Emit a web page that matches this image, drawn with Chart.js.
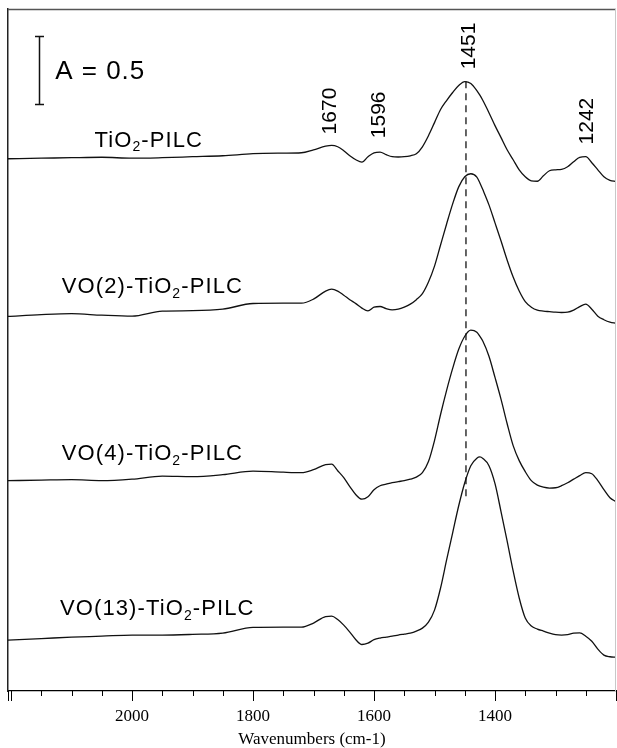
<!DOCTYPE html>
<html><head><meta charset="utf-8">
<script src="https://cdn.jsdelivr.net/npm/chart.js@4/dist/chart.umd.min.js"></script>
<style>html,body{margin:0;padding:0;background:#fff}</style>
</head><body>
<canvas id="c" width="617" height="748"></canvas>
<script>
// Wavenumbers (cm-1), shared by all spectra
const wavenumbers = [2205,2150,2100,2050,2000,1950,1900,1850,1800,1750,1720,1700,
  1680,1670,1660,1650,1640,1630,1620,1610,1600,1590,1580,1570,1560,1550,1540,1530,1520,1510,
  1500,1490,1480,1470,1460,1450,1440,1430,1425,1420,1410,1400,1390,1380,1370,1360,1350,1340,1330,
  1320,1310,1300,1290,1280,1270,1260,1250,1240,1230,1220,1210,1200];

// Absorbance (offset stacked) for each sample
const tio2Pilc = [3.902,3.906,3.910,3.913,3.906,3.910,3.917,3.924,3.939,3.943,3.946,3.968,
  3.994,4.000,3.990,3.961,3.924,3.895,3.878,3.917,3.946,3.951,3.932,3.917,3.915,3.917,3.924,3.939,3.990,4.071,
  4.167,4.263,4.329,4.388,4.439,4.468,4.454,4.402,4.368,4.329,4.240,4.145,4.057,3.968,3.895,3.821,3.770,3.740,3.737,
  3.777,3.814,3.821,3.824,3.843,3.880,3.913,3.917,3.873,3.821,3.770,3.744,3.735];
const vo2Pilc = [2.746,2.759,2.766,2.755,2.748,2.785,2.788,2.799,2.841,2.843,2.843,2.873,
  2.932,2.946,2.932,2.902,2.869,2.840,2.807,2.787,2.814,2.819,2.803,2.794,2.799,2.814,2.836,2.869,2.913,2.998,
  3.115,3.270,3.424,3.571,3.696,3.770,3.792,3.768,3.725,3.674,3.564,3.432,3.299,3.160,3.035,2.932,2.854,2.814,2.792,
  2.785,2.781,2.777,2.775,2.777,2.792,2.818,2.836,2.799,2.748,2.722,2.704,2.696];
const vo4Pilc = [1.542,1.546,1.549,1.542,1.553,1.575,1.571,1.586,1.612,1.604,1.601,1.623,
  1.660,1.663,1.615,1.564,1.498,1.439,1.406,1.424,1.476,1.505,1.516,1.527,1.535,1.542,1.553,1.568,1.601,1.682,
  1.836,2.027,2.204,2.365,2.505,2.601,2.645,2.630,2.600,2.564,2.454,2.299,2.138,1.961,1.799,1.689,1.608,1.542,1.509,
  1.494,1.488,1.490,1.505,1.527,1.553,1.579,1.601,1.593,1.542,1.476,1.417,1.388];
const vo13Pilc = [0.373,0.384,0.395,0.402,0.410,0.410,0.415,0.424,0.466,0.468,0.468,0.498,
  0.546,0.549,0.524,0.483,0.432,0.376,0.341,0.351,0.376,0.388,0.395,0.402,0.410,0.417,0.424,0.439,0.461,0.505,
  0.593,0.755,0.961,1.160,1.358,1.527,1.652,1.707,1.716,1.705,1.652,1.520,1.314,1.101,0.880,0.682,0.535,0.476,0.454,
  0.439,0.424,0.413,0.410,0.413,0.424,0.426,0.402,0.365,0.307,0.263,0.251,0.248];

// Sample names ("_2" marks a subscript 2) and their anchor (left edge wavenumber, absorbance)
const sampleNames = ["TiO_2-PILC","VO(2)-TiO_2-PILC","VO(4)-TiO_2-PILC","VO(13)-TiO_2-PILC"];
const sampleNameX = [2062,2116,2116,2119];
const sampleNameY = [4.049,2.976,1.751,0.612];

// Peak annotations
const peakLabels = ["1670","1596","1451","1242"];
const peakLabelX = [1675,1595,1445,1251];
const peakLabelY = [4.252,4.224,4.729,4.178];

// Marker line at 1451 cm-1
const markerX = [1448,1448];
const markerY = [4.471,1.417];

// Scale bar A = 0.5
const scaleBarX = 2153;
const scaleBarY = [4.299,4.799];
const scaleBarText = "A = 0.5";
const scaleBarTextX = 2127;
const scaleBarTextY = 4.557;

// Axis ticks
const tickMin = 1200, tickMax = 2200, tickStep = 50;
const majorTickLabels = [2000,1800,1600,1400];

const pts = arr => wavenumbers.map((w,i)=>({x:w, y:arr[i]}));
const lineDs = (arr) => ({data:pts(arr), borderColor:'#111', borderWidth:1.3, pointRadius:0, pointHoverRadius:0, fill:false, cubicInterpolationMode:'monotone'});

const SANS = '"Liberation Sans", Arial, Helvetica, sans-serif';
const SERIF = '"Liberation Serif", "Times New Roman", serif';

function drawName(ctx, str, px, py, size){
  const parts = str.split('_');
  ctx.textAlign='left'; ctx.textBaseline='alphabetic';
  try { ctx.letterSpacing = '1.1px'; } catch(e){}
  const base = py + 0.36*size;
  let cx = px;
  ctx.font = size+'px '+SANS;
  ctx.fillText(parts[0], cx, base); cx += ctx.measureText(parts[0]).width;
  if (parts[1]) {
    const sub = parts[1][0], rest = parts[1].slice(1);
    ctx.font = Math.round(size*0.62)+'px '+SANS;
    ctx.fillText(sub, cx, base + size*0.22); cx += ctx.measureText(sub).width;
    ctx.font = size+'px '+SANS;
    ctx.fillText(rest, cx, base);
  }
  try { ctx.letterSpacing = '0px'; } catch(e){}
}

const annot = {
  id:'annot',
  afterDraw(chart){
    const {ctx, scales:{x,y}, chartArea:a} = chart;
    ctx.save();
    // frame: top and right
    ctx.strokeStyle='#555'; ctx.lineWidth=1.5;
    ctx.beginPath(); ctx.moveTo(a.left, a.top+0.5); ctx.lineTo(a.right, a.top+0.5); ctx.stroke();
    ctx.strokeStyle='#c8c8c8'; ctx.lineWidth=1;
    ctx.beginPath(); ctx.moveTo(a.right-0.5, a.top); ctx.lineTo(a.right-0.5, a.bottom); ctx.stroke();
    // tick marks
    ctx.strokeStyle='#000'; ctx.lineWidth=1;
    for (let v=tickMin; v<=tickMax; v+=tickStep){
      const px = Math.round(x.getPixelForValue(v))+0.5;
      const len = (v%200===0)?10:5;
      ctx.beginPath(); ctx.moveTo(px, a.bottom); ctx.lineTo(px, a.bottom+len); ctx.stroke();
    }
    ctx.beginPath(); ctx.moveTo(a.left+0.5, a.bottom); ctx.lineTo(a.left+0.5, a.bottom+10); ctx.stroke();
    ctx.fillStyle='#000';
    // sample names
    sampleNames.forEach((n,i)=>drawName(ctx, n, x.getPixelForValue(sampleNameX[i]), y.getPixelForValue(sampleNameY[i]), 22));
    // peak labels rotated
    ctx.font = '21px '+SANS; ctx.textAlign='center'; ctx.textBaseline='alphabetic';
    peakLabels.forEach((t,i)=>{
      ctx.save();
      ctx.translate(x.getPixelForValue(peakLabelX[i]), y.getPixelForValue(peakLabelY[i]));
      ctx.rotate(-Math.PI/2);
      ctx.fillText(t, 0, 0.358*21);
      ctx.restore();
    });
    // scale bar
    const bx = Math.round(x.getPixelForValue(scaleBarX))+0.5;
    const by0 = y.getPixelForValue(scaleBarY[0]), by1 = y.getPixelForValue(scaleBarY[1]);
    ctx.strokeStyle='#111'; ctx.lineWidth=1.5;
    ctx.beginPath();
    ctx.moveTo(bx, by0); ctx.lineTo(bx, by1);
    ctx.moveTo(bx-4.5, by0); ctx.lineTo(bx+4.5, by0);
    ctx.moveTo(bx-4.5, by1); ctx.lineTo(bx+4.5, by1);
    ctx.stroke();
    ctx.font = '26px '+SANS; ctx.textAlign='left';
    try { ctx.letterSpacing = '1px'; } catch(e){}
    ctx.fillText(scaleBarText, x.getPixelForValue(scaleBarTextX), y.getPixelForValue(scaleBarTextY)+0.358*26);
    ctx.restore();
  }
};

new Chart(document.getElementById('c'), {
  type:'line',
  data:{datasets:[
    lineDs(tio2Pilc), lineDs(vo2Pilc), lineDs(vo4Pilc), lineDs(vo13Pilc),
    {data:markerX.map((v,i)=>({x:v,y:markerY[i]})), borderColor:'#333', borderWidth:1.5, borderDash:[7,5], pointRadius:0, pointHoverRadius:0, fill:false}
  ]},
  options:{
    responsive:false, animation:false, devicePixelRatio:1,
    layout:{autoPadding:false, padding:{left:8,right:1,top:9,bottom:0}},
    plugins:{legend:{display:false}, tooltip:{enabled:false}},
    scales:{
      x:{type:'linear', reverse:true, min:1200, max:2205, position:'bottom',
        afterFit(s){ s.height = 57; s.paddingLeft = 0; s.paddingRight = 0; },
        grid:{display:false, drawTicks:false},
        border:{display:true, color:'#000', width:1.2},
        ticks:{stepSize:50, autoSkip:false, maxRotation:0, minRotation:0, padding:15, color:'#000',
          font:{family:SERIF, size:17},
          callback:(v)=> majorTickLabels.includes(v) ? String(v) : ''},
        title:{display:true, text:'Wavenumbers (cm-1)', color:'#000', font:{family:SERIF, size:17, lineHeight:1}, padding:{top:0,bottom:0}}
      },
      y:{min:0, max:5, afterFit(s){ s.width = 0; s.paddingTop = 0; s.paddingBottom = 0; },
        ticks:{display:false}, grid:{display:false, drawTicks:false},
        border:{display:true, color:'#222', width:1.5}}
    }
  },
  plugins:[annot]
});
</script>
</body></html>
